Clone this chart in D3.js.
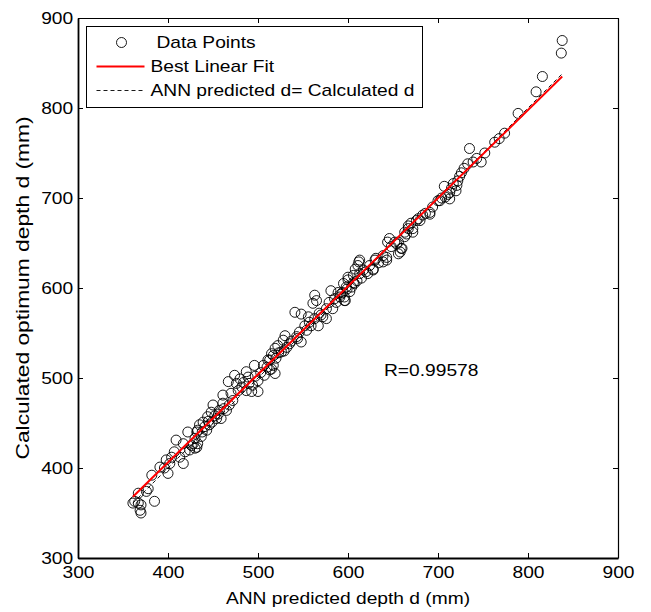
<!DOCTYPE html>
<html>
<head>
<meta charset="utf-8">
<script src="https://cdn.jsdelivr.net/npm/d3@7"></script>
<style>
  body { margin: 0; background: #fff; }
  svg text { font-family: "Liberation Sans", Arial, sans-serif; font-size: 16px; fill: #000; }
</style>
</head>
<body>
<svg id="chart" width="651" height="612"></svg>
<script>
//////////////////////////////////////////////////////////////////////////
//  ANN predicted depth vs calculated optimum depth (regression plot)
//////////////////////////////////////////////////////////////////////////

// ANN predicted depth d (mm) -- x of each data point
var predicted = [
	838, 837, 816, 809, 789, 774, 763, 768, 752, 748, 739, 735, 743, 733, 729, 726, 724, 722, 721, 717,
	715, 720, 707, 711, 713, 713, 704, 708, 700, 702, 694, 691, 691, 686, 680, 683, 678, 676, 670, 667,
	667, 672, 672, 665, 663, 663, 646, 644, 654, 656, 652, 648, 659, 660, 656, 658, 639, 643, 643, 639,
	631, 630, 634, 613, 612, 611, 624, 628, 628, 620, 622, 617, 606, 608, 615, 613, 610, 600, 600, 607,
	606, 604, 598, 595, 602, 599, 596, 597, 581, 563, 565, 561, 594, 592, 591, 589, 587, 585, 596, 579,
	576, 583, 576, 570, 572, 568, 563, 556, 541, 548, 559, 557, 552, 567, 554, 546, 543, 544, 548, 530,
	528, 537, 535, 522, 532, 529, 519, 523, 526, 515, 520, 513, 517, 513, 519, 511, 517, 510, 506, 515,
	496, 503, 507, 497, 487, 489, 480, 474, 467, 476, 482, 484, 490, 494, 500, 493, 500, 487, 478, 470,
	472, 461, 461, 468, 462, 450, 457, 465, 448, 456, 452, 444, 454, 459, 449, 445, 439, 435, 446, 441,
	443, 438, 432, 437, 430, 433, 430, 426, 433, 422, 409, 417, 428, 432, 424, 419, 407, 404, 413, 398,
	417, 402, 391, 396, 400, 382, 378, 376, 367, 363, 361, 367, 370, 369, 370, 385
];

// Calculated optimum depth d (mm) -- y of each data point
var calculated = [
	875, 861, 835, 818, 794, 772, 762, 766, 750, 740, 740, 755, 744, 738, 733, 728, 724, 719, 714, 716,
	711, 708, 713, 704, 699, 706, 700, 701, 697, 697, 690, 684, 682, 683, 675, 681, 677, 675, 672, 666,
	669, 662, 666, 660, 657, 662, 655, 651, 649, 651, 651, 646, 644, 644, 638, 640, 636, 634, 631, 629,
	633, 631, 628, 631, 629, 625, 625, 620, 621, 618, 616, 620, 614, 621, 611, 616, 608, 609, 612, 605,
	606, 601, 601, 605, 596, 599, 590, 586, 597, 592, 586, 583, 595, 593, 590, 595, 584, 588, 586, 584,
	577, 577, 566, 570, 568, 572, 566, 568, 573, 571, 558, 562, 558, 558, 553, 551, 546, 544, 540, 547,
	542, 541, 538, 536, 534, 530, 533, 528, 529, 527, 522, 520, 514, 509, 505, 520, 525, 512, 514, 510,
	514, 506, 503, 502, 507, 501, 499, 503, 496, 494, 490, 495, 494, 492, 497, 485, 485, 486, 486, 483,
	475, 481, 472, 470, 466, 470, 464, 464, 462, 460, 458, 457, 455, 455, 451, 452, 451, 448, 448, 446,
	442, 440, 440, 435, 433, 427, 422, 425, 442, 440, 431, 427, 427, 423, 420, 418, 418, 412, 412, 409,
	405, 405, 401, 400, 394, 392, 377, 374, 372, 363, 361, 361, 359, 353, 350, 363
];

var xTicks = [300, 400, 500, 600, 700, 800, 900];
var yTicks = [300, 400, 500, 600, 700, 800, 900];

// best linear fit
var fitSlope = 0.979;
var fitIntercept = 14.6;

var legendLabels = ["Data Points", "Best Linear Fit", "ANN predicted d= Calculated d"];
var xTitle = "ANN predicted depth d (mm)";
var yTitle = "Calculated optimum depth d (mm)";
var rLabel = "R=0.99578";
var rAt = [640, 509]; // data coords where the R text sits


var plot = { left: 78, right: 618, top: 18, bottom: 558 };
var stretch = 1.2; // the figure text is a bit wider than plain Arial

var svg = d3.select("#chart");

var x = d3.scaleLinear().domain([300, 900]).range([plot.left, plot.right]);
var y = d3.scaleLinear().domain([300, 900]).range([plot.bottom, plot.top]);


// text with the horizontal stretch, anchored at (px, py)
function addText(parent, px, py, str, anchor, rotate) {
	var g = parent.append("g")
		.attr("transform", "translate(" + px + "," + py + ")" + (rotate ? " rotate(" + rotate + ")" : "") + " scale(" + stretch + ",1)");
	return g.append("text")
		.attr("text-anchor", anchor || "start")
		.text(str);
}


// axes, ticks inward on all four sides (box on)
function styleAxis(g, width) {
	g.select(".domain").attr("stroke", "#000").attr("stroke-width", width);
	g.selectAll(".tick line").attr("stroke", "#000").attr("stroke-width", 1);
	g.selectAll(".tick text")
		.attr("fill", "#000")
		.style("font-family", '"Liberation Sans", Arial, sans-serif')
		.style("font-size", "16px")
		.attr("transform", "scale(" + stretch + ",1)");
}

var gx = svg.append("g")
	.attr("transform", "translate(0," + plot.bottom + ")")
	.call(d3.axisBottom(x).tickValues(xTicks).tickSizeInner(-5).tickSizeOuter(0).tickPadding(9));
styleAxis(gx, 1.8);

var gy = svg.append("g")
	.attr("transform", "translate(" + plot.left + ",0)")
	.call(d3.axisLeft(y).tickValues(yTicks).tickSizeInner(-5).tickSizeOuter(0).tickPadding(4));
styleAxis(gy, 1.8);

var gTop = svg.append("g")
	.attr("transform", "translate(0," + plot.top + ")")
	.call(d3.axisTop(x).tickValues(xTicks).tickSizeInner(-5).tickSizeOuter(0).tickFormat(""));
styleAxis(gTop, 1.2);

var gRight = svg.append("g")
	.attr("transform", "translate(" + plot.right + ",0)")
	.call(d3.axisRight(y).tickValues(yTicks).tickSizeInner(-5).tickSizeOuter(0).tickFormat(""));
styleAxis(gRight, 1.2);


// axis titles
addText(svg, (plot.left + plot.right) / 2, 604, xTitle, "middle");
addText(svg, 29, (plot.top + plot.bottom) / 2, yTitle, "middle", -90)
	.style("font-size", "19px");


// data points
var points = predicted.map(function(d, i) { return { x: d, y: calculated[i] }; });

svg.append("g").selectAll("circle")
	.data(points)
	.enter()
	.append("circle")
	.attr("cx", function(d) { return x(d.x); })
	.attr("cy", function(d) { return y(d.y); })
	.attr("r", 5)
	.attr("fill", "none")
	.attr("stroke", "#000")
	.attr("stroke-width", 0.9);


// y = x reference and the fitted line, both over the x range of the data
var xRange = d3.extent(predicted);

svg.append("line")
	.attr("x1", x(xRange[0])).attr("y1", y(xRange[0]))
	.attr("x2", x(xRange[1])).attr("y2", y(xRange[1]))
	.attr("stroke", "#000")
	.attr("stroke-width", 0.9)
	.attr("stroke-dasharray", "4,3");

svg.append("line")
	.attr("x1", x(xRange[0])).attr("y1", y(fitSlope * xRange[0] + fitIntercept))
	.attr("x2", x(xRange[1])).attr("y2", y(fitSlope * xRange[1] + fitIntercept))
	.attr("stroke", "#ff0000")
	.attr("stroke-width", 2);


// R value
addText(svg, x(rAt[0]), y(rAt[1]), rLabel, "start").attr("dy", "0.35em");


// legend
var legend = svg.append("g").attr("transform", "translate(86.5,26.5)");

legend.append("rect")
	.attr("width", 336)
	.attr("height", 81)
	.attr("fill", "#fff")
	.attr("stroke", "#000")
	.attr("stroke-width", 1);

var rowY = [16, 40, 64];

legend.append("circle")
	.attr("cx", 35).attr("cy", rowY[0])
	.attr("r", 5)
	.attr("fill", "none")
	.attr("stroke", "#000")
	.attr("stroke-width", 0.9);

legend.append("line")
	.attr("x1", 10).attr("x2", 58)
	.attr("y1", rowY[1]).attr("y2", rowY[1])
	.attr("stroke", "#ff0000")
	.attr("stroke-width", 2);

legend.append("line")
	.attr("x1", 10).attr("x2", 58)
	.attr("y1", rowY[2]).attr("y2", rowY[2])
	.attr("stroke", "#000")
	.attr("stroke-width", 0.9)
	.attr("stroke-dasharray", "4,3");

addText(legend, 70, rowY[0], legendLabels[0], "start").attr("dy", "0.35em");
addText(legend, 64, rowY[1], legendLabels[1], "start").attr("dy", "0.35em");
addText(legend, 64, rowY[2], legendLabels[2], "start").attr("dy", "0.35em");
</script>
</body>
</html>
